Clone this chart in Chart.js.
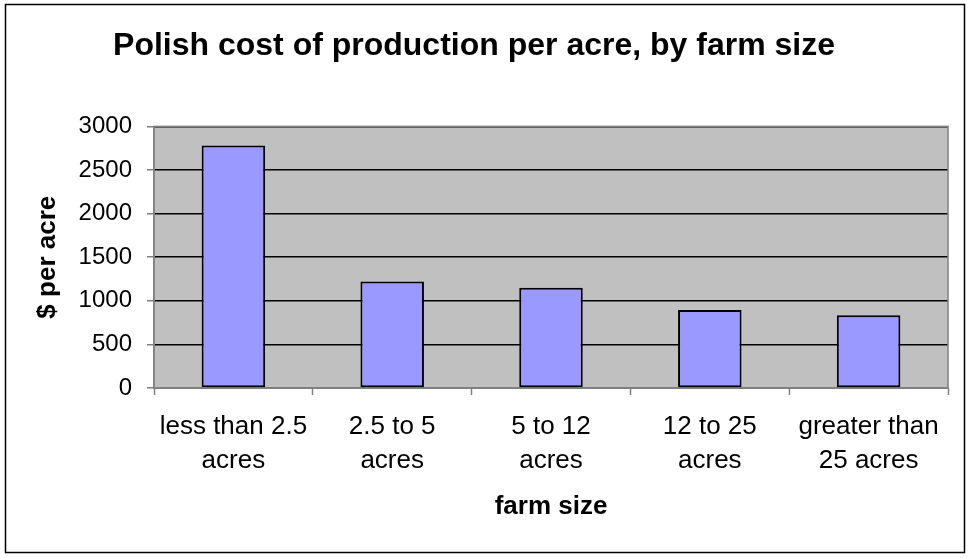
<!DOCTYPE html>
<html>
<head>
<meta charset="utf-8">
<title>Polish cost of production per acre</title>
<script src="https://cdn.jsdelivr.net/npm/chart.js@4"></script>
<style>
    html, body { margin: 0; padding: 0; background: #ffffff; }
    canvas { display: block; }
</style>
</head>
<body>
<canvas id="chart" width="971" height="558"></canvas>
<script>
// Farm size groups and cost per acre ($)
const farmSizes = [
    ['less than 2.5', 'acres'],
    ['2.5 to 5', 'acres'],
    ['5 to 12', 'acres'],
    ['12 to 25', 'acres'],
    ['greater than', '25 acres']
];
const costPerAcre = [2780, 1220, 1150, 895, 835];
const yTicks = [0, 500, 1000, 1500, 2000, 2500, 3000];

const FONT = '"Liberation Sans", Arial, Helvetica, sans-serif';
const AXIS_GRAY = '#808080';

// Gray plot background, gray plot border and the outer chart frame
const chartFrame = {
    id: 'chartFrame',
    beforeDraw(chart) {
        const { ctx, chartArea: a } = chart;
        ctx.save();
        ctx.fillStyle = '#ffffff';
        ctx.fillRect(0, 0, chart.width, chart.height);
        ctx.fillStyle = '#c0c0c0';
        ctx.fillRect(a.left, a.top, a.right - a.left, a.bottom - a.top);
        ctx.restore();
    },
    beforeDatasetsDraw(chart) {
        const { ctx, chartArea: a } = chart;
        ctx.save();
        ctx.strokeStyle = AXIS_GRAY;
        ctx.lineWidth = 1.5;
        ctx.strokeRect(a.left, a.top, a.right - a.left, a.bottom - a.top);
        ctx.restore();
    },
    afterDraw(chart) {
        const ctx = chart.ctx;
        ctx.save();
        ctx.strokeStyle = '#000000';
        ctx.lineWidth = 1.5;
        ctx.strokeRect(5.5, 4.5, 959, 548);
        ctx.restore();
    }
};

new Chart(document.getElementById('chart'), {
    type: 'bar',
    data: {
        labels: farmSizes,
        datasets: [{
            data: costPerAcre,
            backgroundColor: '#9999ff',
            borderColor: '#000000',
            borderWidth: 2,
            borderSkipped: false,
            barPercentage: 0.4,
            categoryPercentage: 1.0
        }]
    },
    options: {
        responsive: false,
        animation: false,
        layout: {
            padding: { top: 0, left: 0, right: 23, bottom: 0 }
        },
        plugins: {
            legend: { display: false },
            tooltip: { enabled: false },
            title: {
                display: true,
                text: 'Polish cost of production per acre, by farm size',
                color: '#000000',
                font: { family: FONT, size: 32, weight: 'bold', lineHeight: 1.2 },
                padding: { top: 27, bottom: 61 }
            }
        },
        scales: {
            x: {
                afterFit: (scale) => { scale.height = 170; },
                grid: {
                    drawOnChartArea: false,
                    tickColor: AXIS_GRAY,
                    tickLength: 7,
                    tickWidth: 1.5
                },
                border: { color: AXIS_GRAY, width: 1.5 },
                ticks: {
                    color: '#000000',
                    padding: 15,
                    maxRotation: 0,
                    autoSkip: false,
                    font: { family: FONT, size: 26, lineHeight: 1.31 }
                },
                title: {
                    display: true,
                    text: 'farm size',
                    color: '#000000',
                    font: { family: FONT, size: 26, weight: 'bold', lineHeight: 1.2 },
                    padding: { top: 0, bottom: 36 }
                }
            },
            y: {
                min: 0,
                max: 3000,
                afterFit: (scale) => { scale.width = 154; },
                afterBuildTicks: (scale) => {
                    scale.ticks = yTicks.map(v => ({ value: v }));
                },
                grid: {
                    color: '#000000',
                    lineWidth: 1.5,
                    tickColor: AXIS_GRAY,
                    tickLength: 7,
                    tickWidth: 1.5
                },
                border: { color: AXIS_GRAY, width: 1.5 },
                ticks: {
                    color: '#000000',
                    padding: 15,
                    font: { family: FONT, size: 24 },
                    callback: (value) => String(value)
                },
                title: {
                    display: true,
                    text: '$ per acre',
                    color: '#000000',
                    font: { family: FONT, size: 26, weight: 'bold', lineHeight: 1.2 },
                    padding: { top: 32, bottom: 0 }
                }
            }
        }
    },
    plugins: [chartFrame]
});
</script>
</body>
</html>
